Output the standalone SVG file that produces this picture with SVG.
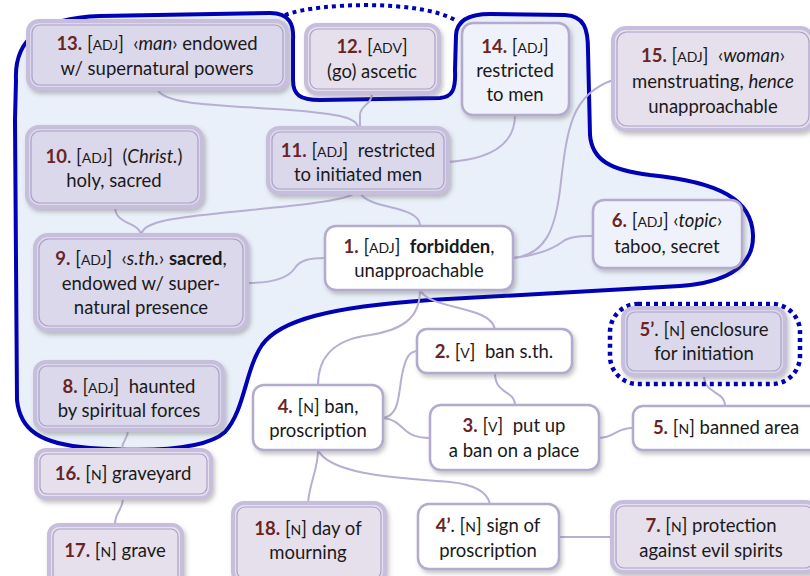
<svg xmlns="http://www.w3.org/2000/svg" width="810" height="576" viewBox="0 0 810 576">
<defs>
<filter id="sh" x="-10%" y="-10%" width="130%" height="140%">
<feDropShadow dx="2" dy="3" stdDeviation="2" flood-color="#555" flood-opacity="0.35"/>
</filter>
</defs>
<style>
text{font-family:Lato,"Open Sans","Liberation Sans",sans-serif;font-size:18.5px;fill:#1a1a1a;text-anchor:middle;white-space:pre}
.n{font-weight:bold;fill:#6b2424}
.sc{font-size:14px}
.i{font-style:italic}
.b{font-weight:bold}
.lav{fill:#dad8ea}
.pink{fill:#e6e0ec}
.light{fill:#eff2fa}
.white{fill:#ffffff}
.box{stroke:#c6bedb;stroke-width:4;filter:url(#sh)}
.inner{fill:none;stroke:#a99fc8;stroke-width:1.2}
.sbox{stroke:#b4aacd;stroke-width:2.5;filter:url(#sh)}
.con path{fill:none;stroke:#b8aed2;stroke-width:2}
</style>
<rect width="810" height="576" fill="#ffffff"/>
<g id="blob">
<path d="M 16,80 C 14,40 40,18 100,16 L 270,13 C 290,13 294,25 293,40 L 293,80 C 293,95 300,100 320,100 L 440,98 C 452,97 456,90 455,70 L 456,35 C 457,20 470,14 490,14 L 565,15 C 585,16 588,30 588,50 L 590,135 C 592,160 610,170 650,175 C 720,182 752,200 753,235 C 754,270 720,283 680,286 L 430,300 C 330,307 280,320 262,345 C 245,370 245,410 225,432 C 205,450 150,452 90,448 C 40,444 20,430 17,400 L 15,120 Z" fill="#eaf0f9" stroke="#0000b4" stroke-width="4"/>
<path d="M 285,15 C 320,2 420,0 455,20" fill="none" stroke="#0000b4" stroke-width="4" stroke-dasharray="4 4"/>
</g>
<g class="con" id="connectors">
<path d="M 158,90 C 165,105 220,105 290,110 C 340,114 358,118 358,128"/>
<path d="M 372,93 C 372,105 360,105 360,115 L 360,128"/>
<path d="M 515,115 C 515,150 480,160 448,162"/>
<path d="M 355,193 C 340,205 230,210 180,218 C 150,222 142,228 141,235"/>
<path d="M 115,207 C 115,225 140,222 141,235"/>
<path d="M 360,193 C 370,210 420,205 420,226"/>
<path d="M 247,283 C 280,283 290,275 295,268 C 300,260 310,258 325,258"/>
<path d="M 513,258 C 545,255 555,230 560,190 C 567,130 570,95 613,80"/>
<path d="M 513,258 C 540,255 555,248 565,240 C 575,235 585,236 593,236"/>
<path d="M 420,290 C 420,320 400,330 370,335 C 330,340 318,360 318,385"/>
<path d="M 420,290 C 430,310 490,305 495,329"/>
<path d="M 383,418 C 400,415 398,395 402,375 C 406,355 410,352 417,351"/>
<path d="M 383,418 C 405,420 400,438 430,438"/>
<path d="M 495,373 C 495,395 515,390 515,405"/>
<path d="M 599,438 C 615,438 615,428 633,428"/>
<path d="M 704,375 C 704,395 725,390 725,406"/>
<path d="M 318,450 C 318,470 310,480 308,503"/>
<path d="M 318,450 C 330,475 400,478 450,482 C 480,485 488,495 490,504"/>
<path d="M 559,537 L 612,537"/>
<path d="M 128,430 C 128,440 122,440 122,449"/>
<path d="M 123,498 C 123,510 115,512 115,524"/>
</g>
<g id="n13">
<rect class="lav box" x="28" y="21" width="259" height="68" rx="11"/>
<rect class="inner" x="32" y="25" width="251" height="60" rx="8"/>
<text x="157" y="50"><tspan class="n">13.</tspan> [<tspan class="sc">ADJ</tspan>]  ‹<tspan class="i">man</tspan>› endowed</text>
<text x="157" y="75">w/ supernatural powers</text>
</g>
<g id="n12">
<rect class="pink box" x="306" y="25" width="133" height="68" rx="11"/>
<rect class="inner" x="310" y="29" width="125" height="60" rx="8"/>
<text x="372" y="53"><tspan class="n">12.</tspan> [<tspan class="sc">ADV</tspan>]</text>
<text x="372" y="78">(go) ascetic</text>
</g>
<g id="n14">
<rect class="light sbox" x="462" y="23" width="107" height="92" rx="11"/>
<text x="515" y="53"><tspan class="n">14.</tspan> [<tspan class="sc">ADJ</tspan>]</text>
<text x="515" y="77">restricted</text>
<text x="515" y="101">to men</text>
</g>
<g id="n15">
<rect class="pink box" x="613" y="28" width="200" height="102" rx="13"/>
<rect class="inner" x="617" y="32" width="192" height="94" rx="10"/>
<text x="713" y="62"><tspan class="n">15.</tspan> [<tspan class="sc">ADJ</tspan>]  ‹<tspan class="i">woman</tspan>›</text>
<text x="713" y="88">menstruating, <tspan class="i">hence</tspan></text>
<text x="713" y="113">unapproachable</text>
</g>
<g id="n11">
<rect class="lav box" x="268" y="128" width="180" height="65" rx="11"/>
<rect class="inner" x="272" y="132" width="172" height="57" rx="8"/>
<text x="358" y="157"><tspan class="n">11.</tspan> [<tspan class="sc">ADJ</tspan>]  restricted</text>
<text x="358" y="181">to initiated men</text>
</g>
<g id="n10">
<rect class="lav box" x="27" y="127" width="175" height="80" rx="12"/>
<rect class="inner" x="31" y="131" width="167" height="72" rx="9"/>
<text x="114" y="163"><tspan class="n">10</tspan>. [<tspan class="sc">ADJ</tspan>]  (<tspan class="i">Christ.</tspan>)</text>
<text x="114" y="187">holy, sacred</text>
</g>
<g id="n6">
<rect class="light sbox" x="593" y="200" width="149" height="68" rx="11"/>
<text x="667" y="227"><tspan class="n">6.</tspan> [<tspan class="sc">ADJ</tspan>] ‹<tspan class="i">topic</tspan>›</text>
<text x="667" y="253">taboo, secret</text>
</g>
<g id="n1">
<rect class="white sbox" x="325" y="226" width="188" height="64" rx="11"/>
<text x="419" y="253"><tspan class="n">1.</tspan> [<tspan class="sc">ADJ</tspan>]  <tspan class="b">forbidden</tspan>,</text>
<text x="419" y="277">unapproachable</text>
</g>
<g id="n9">
<rect class="lav box" x="35" y="235" width="212" height="95" rx="13"/>
<rect class="inner" x="39" y="239" width="204" height="87" rx="10"/>
<text x="141" y="265"><tspan class="n">9.</tspan> [<tspan class="sc">ADJ</tspan>]  ‹<tspan class="i">s.th.</tspan>› <tspan class="b">sacred</tspan>,</text>
<text x="141" y="290">endowed w/ super-</text>
<text x="141" y="314">natural presence</text>
</g>
<g id="n8">
<rect class="lav box" x="35" y="362" width="188" height="68" rx="11"/>
<rect class="inner" x="39" y="366" width="180" height="60" rx="8"/>
<text x="129" y="393"><tspan class="n">8.</tspan> [<tspan class="sc">ADJ</tspan>]  haunted</text>
<text x="129" y="417">by spiritual forces</text>
</g>
<g id="n2">
<rect class="white sbox" x="417" y="329" width="155" height="44" rx="10"/>
<text x="494" y="358"><tspan class="n">2.</tspan> [<tspan class="sc">V</tspan>]  ban s.th.</text>
</g>
<g id="n4">
<rect class="white sbox" x="253" y="385" width="130" height="65" rx="11"/>
<text x="318" y="413"><tspan class="n">4.</tspan> [<tspan class="sc">N</tspan>] ban,</text>
<text x="318" y="437">proscription</text>
</g>
<g id="n3">
<rect class="white sbox" x="430" y="405" width="169" height="65" rx="11"/>
<text x="514" y="432"><tspan class="n">3.</tspan> [<tspan class="sc">V</tspan>]  put up</text>
<text x="514" y="457">a ban on a place</text>
</g>
<g id="n5p">
<rect x="610" y="304" width="190" height="80" rx="28" fill="none" stroke="#0000b4" stroke-width="4.5" stroke-dasharray="4 4"/>
<rect class="lav box" x="623" y="308" width="162" height="67" rx="11"/>
<rect class="inner" x="627" y="312" width="154" height="59" rx="8"/>
<text x="704" y="336"><tspan class="n">5’</tspan>. [<tspan class="sc">N</tspan>] enclosure</text>
<text x="704" y="360">for initiation</text>
</g>
<g id="n5">
<rect class="white sbox" x="633" y="406" width="190" height="44" rx="10"/>
<text x="726" y="434"><tspan class="n">5.</tspan> [<tspan class="sc">N</tspan>] banned area</text>
</g>
<g id="n16">
<rect class="pink box" x="36" y="450" width="175" height="48" rx="10"/>
<rect class="inner" x="40" y="454" width="167" height="40" rx="7"/>
<text x="123" y="480"><tspan class="n">16.</tspan> [<tspan class="sc">N</tspan>] graveyard</text>
</g>
<g id="n17">
<rect class="pink box" x="49" y="525" width="133" height="60" rx="10"/>
<rect class="inner" x="53" y="529" width="125" height="52" rx="7"/>
<text x="115" y="557"><tspan class="n">17.</tspan> [<tspan class="sc">N</tspan>] grave</text>
</g>
<g id="n18">
<rect class="pink box" x="233" y="503" width="152" height="80" rx="11"/>
<rect class="inner" x="237" y="507" width="144" height="72" rx="8"/>
<text x="308" y="535"><tspan class="n">18.</tspan> [<tspan class="sc">N</tspan>] day of</text>
<text x="308" y="559">mourning</text>
</g>
<g id="n4p">
<rect class="white sbox" x="418" y="504" width="141" height="65" rx="11"/>
<text x="488" y="532"><tspan class="n">4’</tspan>. [<tspan class="sc">N</tspan>] sign of</text>
<text x="488" y="557">proscription</text>
</g>
<g id="n7">
<rect class="pink box" x="612" y="502" width="205" height="70" rx="11"/>
<rect class="inner" x="616" y="506" width="197" height="62" rx="8"/>
<text x="711" y="532"><tspan class="n">7.</tspan> [<tspan class="sc">N</tspan>] protection</text>
<text x="711" y="557">against evil spirits</text>
</g>
</svg>
